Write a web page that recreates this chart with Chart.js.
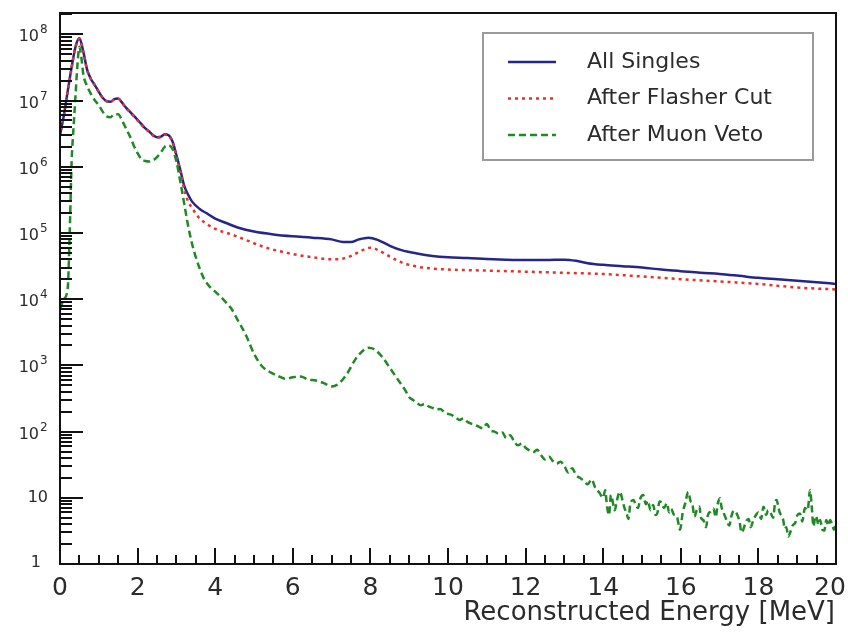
<!DOCTYPE html>
<html>
<head>
<meta charset="utf-8">
<title>Singles energy spectrum</title>
<script src="https://cdn.jsdelivr.net/npm/chart.js@4.4.1/dist/chart.umd.min.js"></script>
<style>
  html, body { margin: 0; padding: 0; background: #ffffff; }
  #wrap { width: 848px; height: 632px; position: relative; }
</style>
</head>
<body>
<div id="wrap"><canvas id="spectrum"></canvas></div>
<script>
// Reconstructed energy (MeV) and counts per bin for each selection stage.
const energyAll = [0.0, 0.1, 0.2, 0.3, 0.4, 0.5, 0.6, 0.7, 0.8, 0.9, 1.0, 1.1, 1.2, 1.3, 1.4, 1.5, 1.6, 1.7, 1.8, 1.9,
  2.0, 2.1, 2.2, 2.3, 2.4, 2.5, 2.6, 2.7, 2.8, 2.9, 3.0, 3.1, 3.2, 3.3, 3.4, 3.6, 3.8, 4.0, 4.3, 4.6,
  5.0, 5.5, 6.0, 6.5, 7.0, 7.3, 7.5, 7.7, 7.95, 8.2, 8.5, 8.8, 9.2, 9.6, 10.0, 10.5, 11.0, 11.5, 12.0, 12.5,
  13.0, 13.3, 13.6, 14.0, 14.5, 15.0, 15.5, 16.0, 16.5, 17.0, 17.5, 18.0, 18.5, 19.0, 19.5, 20.0];
const countsAll = [3.0e6, 6.0e6, 1.4e7, 3.2e7, 6.5e7, 8.7e7, 5.5e7, 2.9e7, 2.1e7, 1.7e7, 1.35e7, 1.1e7, 9.8e6, 9.6e6, 1.05e7, 1.07e7, 9.3e6, 7.8e6, 6.8e6, 5.9e6,
  5.1e6, 4.4e6, 3.8e6, 3.4e6, 3.0e6, 2.8e6, 2.85e6, 3.1e6, 3.0e6, 2.4e6, 1.5e6, 9.0e5, 5.2e5, 3.8e5, 3.0e5, 2.3e5, 1.95e5, 1.65e5, 1.4e5, 1.2e5,
  1.05e5, 9.5e4, 8.9e4, 8.5e4, 8.0e4, 7.3e4, 7.3e4, 8.0e4, 8.5e4, 7.8e4, 6.4e4, 5.5e4, 4.9e4, 4.5e4, 4.3e4, 4.2e4, 4.05e4, 3.95e4, 3.9e4, 3.9e4,
  3.95e4, 3.8e4, 3.5e4, 3.3e4, 3.15e4, 3.0e4, 2.8e4, 2.65e4, 2.5e4, 2.4e4, 2.25e4, 2.1e4, 2.0e4, 1.9e4, 1.8e4, 1.7e4];

const energyFlasher = [0.0, 0.1, 0.2, 0.3, 0.4, 0.5, 0.6, 0.7, 0.8, 0.9, 1.0, 1.1, 1.2, 1.3, 1.4, 1.5, 1.6, 1.7, 1.8, 1.9,
  2.0, 2.1, 2.2, 2.3, 2.4, 2.5, 2.6, 2.7, 2.8, 2.9, 3.0, 3.1, 3.2, 3.3, 3.4, 3.6, 3.8, 4.0, 4.4, 4.8,
  5.2, 5.6, 6.0, 6.5, 7.0, 7.3, 7.5, 7.8, 8.0, 8.2, 8.5, 8.8, 9.2, 9.6, 10.0, 11.0, 12.0, 13.0, 14.0, 15.0,
  16.0, 17.0, 18.0, 19.0, 20.0];
const countsFlasher = [2.9e6, 5.9e6, 1.4e7, 3.1e7, 6.4e7, 8.6e7, 5.4e7, 2.9e7, 2.1e7, 1.7e7, 1.34e7, 1.09e7, 9.7e6, 9.5e6, 1.04e7, 1.06e7, 9.2e6, 7.7e6, 6.7e6, 5.8e6,
  5.0e6, 4.3e6, 3.75e6, 3.35e6, 2.95e6, 2.75e6, 2.8e6, 3.05e6, 2.95e6, 2.35e6, 1.45e6, 8.5e5, 4.6e5, 3.0e5, 2.4e5, 1.65e5, 1.35e5, 1.15e5, 9.6e4, 7.8e4,
  6.3e4, 5.4e4, 4.8e4, 4.3e4, 4.0e4, 4.1e4, 4.5e4, 5.5e4, 6.0e4, 5.5e4, 4.4e4, 3.6e4, 3.1e4, 2.9e4, 2.8e4, 2.7e4, 2.6e4, 2.5e4, 2.4e4, 2.2e4,
  2.0e4, 1.85e4, 1.7e4, 1.5e4, 1.4e4];

const energyVeto = [0.0, 0.1, 0.2, 0.25, 0.3, 0.35, 0.4, 0.45, 0.5, 0.55, 0.6, 0.7, 0.8, 0.9, 1.0, 1.1, 1.2, 1.3, 1.4, 1.5,
  1.6, 1.7, 1.8, 1.9, 2.0, 2.1, 2.2, 2.3, 2.4, 2.5, 2.6, 2.7, 2.8, 2.9, 3.0, 3.1, 3.2, 3.3, 3.4, 3.5,
  3.6, 3.7, 3.8, 3.9, 4.0, 4.2, 4.4, 4.6, 4.8, 5.0, 5.2, 5.4, 5.6, 5.8, 6.0, 6.2, 6.4, 6.6, 6.8, 7.0,
  7.2, 7.4, 7.6, 7.8, 7.95, 8.1, 8.3, 8.5, 8.7, 8.9,
  9.0, 9.1, 9.2, 9.3, 9.4, 9.5, 9.6, 9.7, 9.8, 9.9, 10.0, 10.1, 10.2, 10.3, 10.4, 10.5, 10.6, 10.7, 10.8, 10.9,
  11.0, 11.1, 11.2, 11.3, 11.4, 11.5, 11.6, 11.7, 11.8, 11.9, 12.0, 12.1, 12.2, 12.3, 12.4, 12.5, 12.6, 12.7, 12.8, 12.9,
  13.0, 13.1, 13.2, 13.3, 13.4, 13.5, 13.6, 13.7, 13.8, 13.9, 14.0, 14.05, 14.1, 14.15, 14.2, 14.3, 14.35, 14.43, 14.5, 14.55,
  14.6, 14.65, 14.7, 14.78, 14.85, 14.9, 14.95, 15.03, 15.1, 15.15, 15.22, 15.29, 15.35, 15.4, 15.45, 15.5, 15.57, 15.64, 15.7, 15.75,
  15.82, 15.9, 15.98, 16.05, 16.12, 16.19, 16.25, 16.3, 16.35, 16.41, 16.48, 16.52, 16.58, 16.65, 16.7, 16.77, 16.84, 16.9, 16.95, 17.01,
  17.05, 17.1, 17.18, 17.25, 17.3, 17.37, 17.44, 17.52, 17.56, 17.61, 17.68, 17.75, 17.8, 17.87, 17.93, 18.0, 18.07, 18.13, 18.2, 18.25,
  18.3, 18.38, 18.43, 18.47, 18.52, 18.55, 18.6, 18.64, 18.68, 18.72, 18.77, 18.81, 18.88, 18.95, 19.0, 19.07, 19.13, 19.2, 19.27, 19.33,
  19.37, 19.42, 19.47, 19.5, 19.55, 19.59, 19.65, 19.7, 19.75, 19.8, 19.85, 19.9, 19.95, 20.0];
const countsVeto = [7.0e3, 1.0e4, 1.5e4, 1.0e5, 1.2e6, 4.0e6, 1.2e7, 3.5e7, 6.5e7, 4.5e7, 2.5e7, 1.65e7, 1.25e7, 1.0e7, 8.5e6, 6.8e6, 5.8e6, 5.6e6, 6.2e6, 6.2e6,
  5.0e6, 3.8e6, 2.9e6, 2.1e6, 1.6e6, 1.3e6, 1.22e6, 1.2e6, 1.25e6, 1.4e6, 1.65e6, 2.0e6, 2.1e6, 1.85e6, 1.2e6, 6.0e5, 2.8e5, 1.3e5, 7.0e4, 4.3e4,
  2.9e4, 2.1e4, 1.7e4, 1.45e4, 1.3e4, 1.0e4, 7.4e3, 4.6e3, 2.8e3, 1.5e3, 9.8e2, 8.0e2, 7.0e2, 6.3e2, 6.6e2, 6.8e2, 6.1e2, 5.9e2, 5.4e2, 4.8e2,
  5.4e2, 7.5e2, 1.2e3, 1.65e3, 1.85e3, 1.75e3, 1.35e3, 9.2e2, 6.2e2, 4.2e2,
  330, 300, 270, 250, 262, 240, 228, 215, 220, 198, 185, 178, 162, 150, 158, 140, 132, 126, 118, 112,
  130, 104, 100, 93, 97, 80, 88, 72, 62, 66, 57, 52, 49, 53, 44, 38, 42, 36, 33, 35,
  30, 24, 28, 22, 20, 18, 16, 19, 14, 12, 10, 13, 7.3, 5.5, 11, 6.5, 9, 12.3, 9, 7,
  5.9, 4.8, 8.2, 9.3, 7.5, 7, 9.5, 11, 8, 9, 6.5, 7.8, 5.5, 6, 8.8, 8.5, 7, 8.3, 6, 6.8,
  5.6, 5.2, 3.3, 6, 8.5, 12.3, 9, 8, 5.2, 6.5, 7.4, 5, 4.6, 3.6, 5.5, 6.2, 6.9, 5.1, 8, 9.8,
  7.2, 6, 4.6, 3.8, 5.2, 6.4, 5.8, 4.2, 3.0, 3.3, 4.4, 4.8, 3.6, 4.6, 5.4, 6, 4.8, 7.3, 5.5, 6.5,
  6.2, 5, 8.5, 9.3, 7, 6, 5.3, 4.6, 3.4, 3.6, 2.6, 2.9, 3.8, 4.2, 5.4, 5.8, 4.4, 7, 6.5, 13,
  8, 3.7, 5.3, 5, 3.9, 4.6, 3.3, 3.2, 4.6, 3.8, 4.6, 4.0, 3.3, 4.5];

const seriesLabels = ['All Singles', 'After Flasher Cut', 'After Muon Veto'];
const axisTitleX = 'Reconstructed Energy [MeV]';
const xTickValues = [0, 2, 4, 6, 8, 10, 12, 14, 16, 18, 20];
const yDecades = [0, 1, 2, 3, 4, 5, 6, 7, 8];

const toPoints = (xs, ys) => xs.map((x, i) => ({ x: x, y: ys[i] }));

const TEXT = '#2b2b2b';

// Frame, inward ticks, tick labels, axis title and legend box.
const framePlugin = {
  id: 'frame',
  afterDatasetsDraw(chart) {
    const { ctx, chartArea: a, scales: { x, y } } = chart;
    ctx.save();
    ctx.strokeStyle = '#111';
    ctx.lineWidth = 2;
    ctx.beginPath();
    // y ticks: log minors 2..9, majors at decades
    for (const k of yDecades) {
      for (let m = 1; m <= 9; m++) {
        const v = m * Math.pow(10, k);
        if (v > y.max || v < y.min) continue;
        const py = Math.round(y.getPixelForValue(v));
        const len = m === 1 ? 23 : 12;
        ctx.moveTo(a.left, py);
        ctx.lineTo(a.left + len, py);
      }
    }
    // x ticks: majors every 2, minors every 0.5
    for (let i = 0; i <= 40; i++) {
      const v = i * 0.5;
      const px = Math.round(x.getPixelForValue(v));
      const len = (i % 4 === 0) ? 16 : 9;
      ctx.moveTo(px, a.bottom);
      ctx.lineTo(px, a.bottom - len);
    }
    ctx.stroke();
    ctx.strokeRect(a.left, a.top, a.right - a.left, a.bottom - a.top);

    // y labels with superscript exponents
    ctx.fillStyle = TEXT;
    ctx.textAlign = 'right';
    ctx.textBaseline = 'alphabetic';
    for (const k of yDecades) {
      const py = y.getPixelForValue(Math.pow(10, k));
      if (k === 0) {
        ctx.font = '16px "DejaVu Sans"';
        ctx.fillText('1', 41, py + 3);
      } else if (k === 1) {
        ctx.font = '16px "DejaVu Sans"';
        ctx.fillText('10', 48, py + 4);
      } else {
        ctx.font = '16px "DejaVu Sans"';
        ctx.fillText('10', 39, py + 7);
        ctx.font = '12px "DejaVu Sans"';
        ctx.textAlign = 'left';
        ctx.fillText(String(k), 40, py - 1);
        ctx.textAlign = 'right';
      }
    }

    // x labels
    ctx.textAlign = 'center';
    ctx.font = '25px "DejaVu Sans"';
    for (const v of xTickValues) {
      const px = x.getPixelForValue(v);
      const dx = v === 20 ? -6 : 0;
      ctx.fillText(String(v), px + dx, a.bottom + 31);
    }

    // axis title
    ctx.textAlign = 'right';
    ctx.font = '26px "DejaVu Sans"';
    ctx.fillText(axisTitleX, a.right - 1, a.bottom + 56);

    // legend
    const lx = 483, ly = 33, lw = 330, lh = 127;
    ctx.fillStyle = '#ffffff';
    ctx.fillRect(lx, ly, lw, lh);
    ctx.strokeStyle = '#9a9a9a';
    ctx.lineWidth = 2;
    ctx.strokeRect(lx, ly, lw, lh);
    ctx.font = '22px "DejaVu Sans"';
    ctx.textAlign = 'left';
    ctx.textBaseline = 'middle';
    chart.data.datasets.forEach((ds, i) => {
      const ry = ly + 29 + i * 36.5;
      ctx.strokeStyle = ds.borderColor;
      ctx.lineWidth = ds.borderWidth;
      ctx.setLineDash(ds.borderDash || []);
      ctx.beginPath();
      ctx.moveTo(lx + 25, ry);
      ctx.lineTo(lx + 73, ry);
      ctx.stroke();
      ctx.setLineDash([]);
      ctx.fillStyle = TEXT;
      ctx.fillText(ds.label, lx + 104, ry);
    });
    ctx.restore();
  }
};

new Chart(document.getElementById('spectrum'), {
  type: 'line',
  data: {
    datasets: [
      {
        label: seriesLabels[0],
        data: toPoints(energyAll, countsAll),
        borderColor: '#25258a',
        borderWidth: 2.5,
        order: 2
      },
      {
        label: seriesLabels[1],
        data: toPoints(energyFlasher, countsFlasher),
        borderColor: '#e5322c',
        borderWidth: 2.5,
        borderDash: [3, 4],
        order: 1
      },
      {
        label: seriesLabels[2],
        data: toPoints(energyVeto, countsVeto),
        borderColor: '#1d8a23',
        borderWidth: 2.5,
        borderDash: [7, 4],
        order: 0
      }
    ]
  },
  options: {
    responsive: true,
    maintainAspectRatio: false,
    animation: false,
    layout: { padding: { left: 60, right: 12, top: 13, bottom: 68 } },
    elements: {
      point: { radius: 0 },
      line: { cubicInterpolationMode: 'monotone', fill: false }
    },
    scales: {
      x: { type: 'linear', min: 0, max: 20, display: false },
      y: { type: 'logarithmic', min: 1, max: 2.1e8, display: false }
    },
    plugins: {
      legend: { display: false },
      tooltip: { enabled: false }
    }
  },
  plugins: [framePlugin]
});
</script>
</body>
</html>
